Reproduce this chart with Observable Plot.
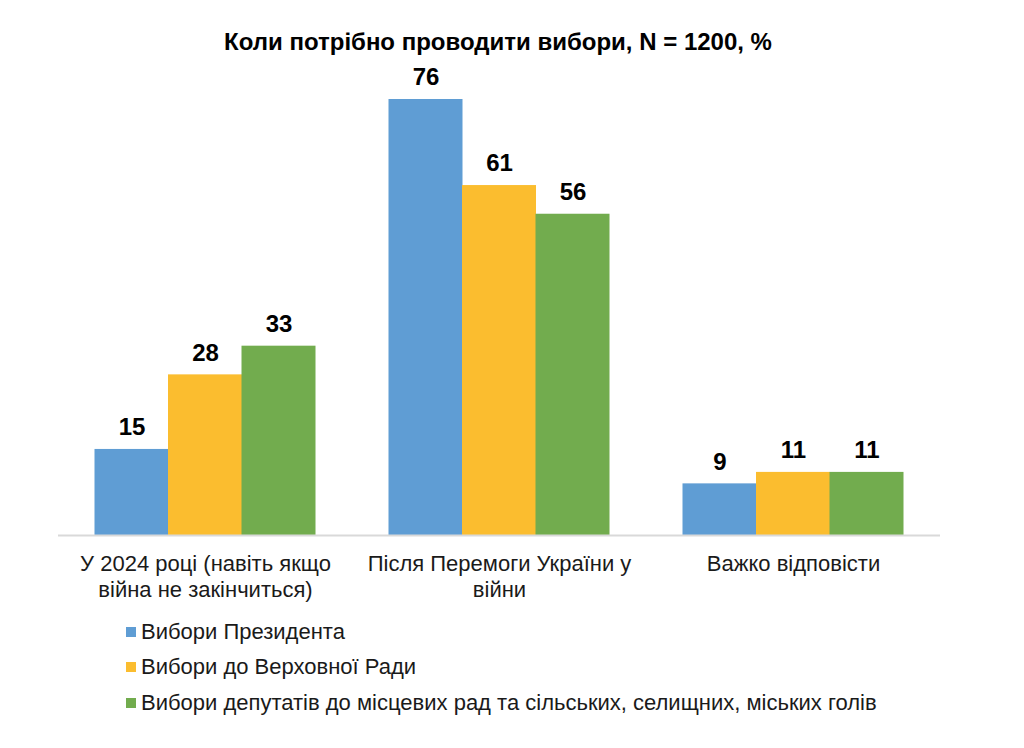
<!DOCTYPE html>
<html>
<head>
<meta charset="utf-8">
<script src="https://cdn.jsdelivr.net/npm/d3@7"></script>
<script src="https://cdn.jsdelivr.net/npm/@observablehq/plot@0.6"></script>
<style>
  html, body { margin: 0; padding: 0; background: #fff; }
  body { width: 1024px; height: 748px; overflow: hidden; font-family: "Liberation Sans", Arial, sans-serif; color: #1a1a1a; }
  #title { width: 996px; height: 70px; box-sizing: border-box; padding-top: 28px; text-align: center; font-weight: bold; font-size: 24px; line-height: 28px; color: #000; }
  #legend { margin-left: 126px; margin-top: 9px; font-size: 22px; }
  .item { display: flex; align-items: center; height: 35.5px; }
  .sw { width: 10px; height: 10px; margin-right: 5px; }
</style>
</head>
<body>
<div id="title">Коли потрібно проводити вибори, N = 1200, %</div>
<div id="chart"></div>
<div id="legend"></div>
<script>
const categories = [
  "У 2024 році (навіть якщо\nвійна не закінчиться)",
  "Після Перемоги України у\nвійни",
  "Важко відповісти"
];
const seriesNames = [
  "Вибори Президента",
  "Вибори до Верховної Ради",
  "Вибори депутатів до місцевих рад та сільських, селищних, міських голів"
];
const president = [15, 76, 9];
const rada = [28, 61, 11];
const local = [33, 56, 11];
const colors = ["#5f9dd4", "#fbbd2f", "#72ac4e"];

const seriesValues = [president, rada, local];
const data = seriesValues.flatMap((vals, s) =>
  vals.map((v, i) => ({category: categories[i], series: seriesNames[s], value: v}))
);

const step = 294;
const barW = step * 0.25;
const offsets = [-barW, 0, barW];

const marks = [];
seriesNames.forEach((name, s) => {
  const d = data.filter(r => r.series === name);
  marks.push(Plot.barY(d, {x: "category", y: "value", fill: colors[s], dx: offsets[s]}));
  marks.push(Plot.text(d, {x: "category", y: "value", text: d => String(d.value), dx: offsets[s], dy: -22,
    fontSize: 24, fontWeight: "bold", fill: "#000"}));
});
marks.push(Plot.ruleY([0], {stroke: "#d9d9d9", strokeWidth: 2}));
marks.push(Plot.axisX({tickSize: 0, tickPadding: 17, fontSize: 22, lineHeight: 1.18, fill: "#1a1a1a", label: null}));

const chart = Plot.plot({
  width: 1024,
  height: 535,
  marginLeft: 58,
  marginRight: 84,
  marginTop: 29,
  marginBottom: 70,
  style: {fontFamily: "'Liberation Sans', Arial, sans-serif", background: "#fff", overflow: "visible"},
  x: {domain: categories, paddingInner: 0.75, paddingOuter: 0.375, label: null},
  y: {domain: [0, 76], axis: null},
  marks
});
document.getElementById("chart").appendChild(chart);

const legend = document.getElementById("legend");
seriesNames.forEach((name, s) => {
  const item = document.createElement("div");
  item.className = "item";
  const sw = document.createElement("span");
  sw.className = "sw";
  sw.style.background = colors[s];
  const t = document.createElement("span");
  t.textContent = name;
  item.appendChild(sw);
  item.appendChild(t);
  legend.appendChild(item);
});
</script>
</body>
</html>
